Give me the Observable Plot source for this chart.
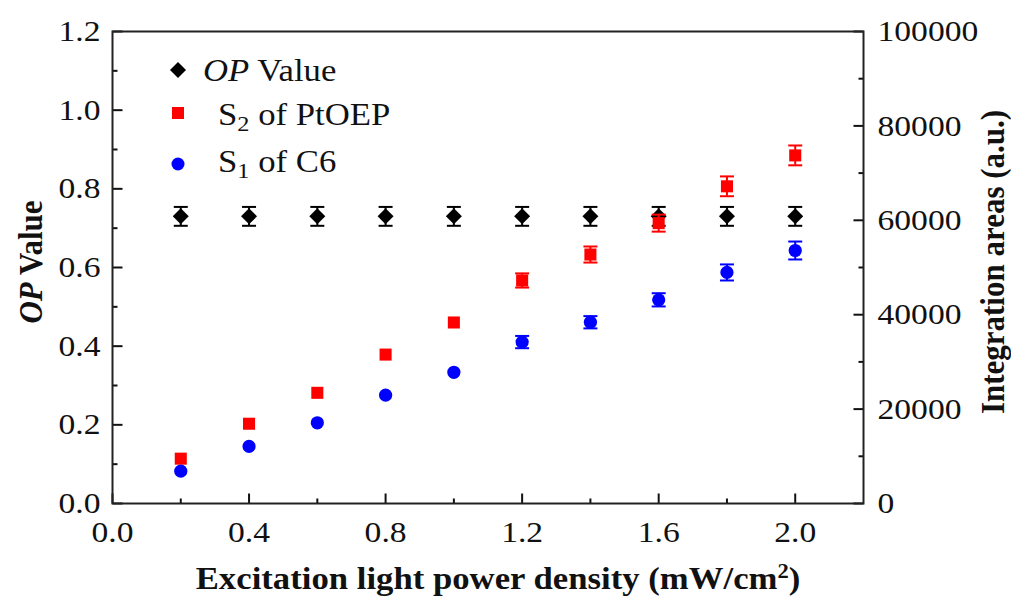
<!DOCTYPE html>
<html>
<head>
<meta charset="utf-8">
<script src="https://cdn.jsdelivr.net/npm/d3@7"></script>
<script src="https://cdn.jsdelivr.net/npm/@observablehq/plot@0.6"></script>
<style>
  html, body { margin: 0; padding: 0; background: #fff; }
  #chart { width: 1011px; height: 601px; }
</style>
</head>
<body>
<div id="chart"></div>
<script>
// ---- data ----
const power = [0.2, 0.4, 0.6, 0.8, 1.0, 1.2, 1.4, 1.6, 1.8, 2.0];           // mW/cm^2
const opValue = [0.73, 0.73, 0.73, 0.73, 0.73, 0.73, 0.73, 0.73, 0.73, 0.73]; // left axis
const opError = [0.024, 0.024, 0.024, 0.024, 0.024, 0.024, 0.024, 0.024, 0.024, 0.024];
const s2PtOEP = [9500, 16900, 23450, 31550, 38350, 47250, 52750, 59400, 67200, 73750]; // right axis
const s2Error = [0, 0, 0, 0, 0, 1500, 1700, 1800, 2100, 2100];
const s1C6 = [6850, 12100, 17100, 22950, 27800, 34200, 38400, 43150, 48950, 53600];     // right axis
const s1Error = [0, 0, 0, 0, 0, 1300, 1300, 1400, 1700, 1900];

const xMajorTicks = [0, 0.4, 0.8, 1.2, 1.6, 2.0];
const xMinorTicks = [0.2, 0.6, 1.0, 1.4, 1.8];
const leftMajorTicks = [0, 0.2, 0.4, 0.6, 0.8, 1.0, 1.2];
const leftMinorTicks = [0.1, 0.3, 0.5, 0.7, 0.9, 1.1];
const rightMajorTicks = [0, 20000, 40000, 60000, 80000, 100000];
const rightMinorTicks = [10000, 30000, 50000, 70000, 90000];

const xDomain = [0, 2.2];
const leftMax = 1.2;
const rightMax = 100000;

const seriesLabels = {
  op: "OP Value",
  s2: "of PtOEP",
  s1: "of C6"
};
const xTitle = "Excitation light power density (mW/cm";
const rightTitle = "Integration areas (a.u.)";

// ---- helpers ----
const toLeft = v => v * leftMax / rightMax;
const fromLeft = v => v * rightMax / leftMax;

const rows = power.map((x, i) => ({
  x,
  op: opValue[i], opErr: opError[i],
  s2: toLeft(s2PtOEP[i]), s2Err: toLeft(s2Error[i]),
  s1: toLeft(s1C6[i]), s1Err: toLeft(s1Error[i])
}));

// custom pixel-length symbols (length = r)
const lineSym = (dx, dy) => ({
  draw(ctx, size) {
    const r = Math.sqrt(size / Math.PI);
    ctx.moveTo(0, 0);
    ctx.lineTo(dx * r, dy * r);
  }
});
const capSym = {
  draw(ctx, size) {
    const r = Math.sqrt(size / Math.PI);
    ctx.moveTo(-r, 0);
    ctx.lineTo(r, 0);
  }
};

const INK = "#111";
const RED = "#ff0000";
const BLUE = "#0000ff";
const FONT = "'Liberation Serif', 'Times New Roman', serif";
const TICK_FS = 30;
const STRETCH = 1.12;

function errorMarks(key, errKey, color) {
  const withErr = rows.filter(d => d[errKey] > 0);
  return [
    Plot.ruleX(withErr, {x: "x", y1: d => d[key] - d[errKey], y2: d => d[key] + d[errKey], stroke: color, strokeWidth: 2}),
    Plot.dot(withErr, {x: "x", y: d => d[key] + d[errKey], symbol: capSym, r: 7, fill: "none", stroke: color, strokeWidth: 2}),
    Plot.dot(withErr, {x: "x", y: d => d[key] - d[errKey], symbol: capSym, r: 7, fill: "none", stroke: color, strokeWidth: 2})
  ];
}

const chart = Plot.plot({
  width: 1011,
  height: 601,
  marginLeft: 112,
  marginRight: 148,
  marginTop: 31,
  marginBottom: 98,
  style: {fontFamily: FONT, background: "#fff", color: INK, overflow: "visible"},
  x: {domain: xDomain},
  y: {domain: [0, leftMax]},
  marks: [
    // tick marks pointing inward
    Plot.dot(xMajorTicks, {x: d => d, frameAnchor: "bottom", symbol: lineSym(0, -1), r: 10, fill: "none", stroke: INK, strokeWidth: 2}),
    Plot.dot(xMinorTicks, {x: d => d, frameAnchor: "bottom", symbol: lineSym(0, -1), r: 5, fill: "none", stroke: INK, strokeWidth: 2}),
    Plot.dot(leftMajorTicks, {y: d => d, frameAnchor: "left", symbol: lineSym(1, 0), r: 10, fill: "none", stroke: INK, strokeWidth: 2}),
    Plot.dot(leftMinorTicks, {y: d => d, frameAnchor: "left", symbol: lineSym(1, 0), r: 5, fill: "none", stroke: INK, strokeWidth: 2}),
    Plot.dot(rightMajorTicks.map(toLeft), {y: d => d, frameAnchor: "right", symbol: lineSym(-1, 0), r: 10, fill: "none", stroke: INK, strokeWidth: 2}),
    Plot.dot(rightMinorTicks.map(toLeft), {y: d => d, frameAnchor: "right", symbol: lineSym(-1, 0), r: 5, fill: "none", stroke: INK, strokeWidth: 2}),
    // axes (labels)
    Plot.axisX(xMajorTicks, {anchor: "bottom", tickSize: 0, tickPadding: 17, tickFormat: d3.format(".1f"), fontSize: TICK_FS, label: null}),
    Plot.axisY(leftMajorTicks, {anchor: "left", tickSize: 0, tickPadding: 12, tickFormat: d3.format(".1f"), fontSize: TICK_FS, label: null}),
    Plot.axisY(rightMajorTicks.map(toLeft), {anchor: "right", tickSize: 0, tickPadding: 14, tickFormat: d => String(Math.round(fromLeft(d))), fontSize: TICK_FS, label: null}),
    // OP value
    ...errorMarks("op", "opErr", "#000"),
    Plot.dot(rows, {x: "x", y: "op", symbol: "diamond2", r: 7.2, fill: "#000"}),
    // S2 of PtOEP
    ...errorMarks("s2", "s2Err", RED),
    Plot.dot(rows, {x: "x", y: "s2", symbol: "square", r: 6.8, fill: RED}),
    // S1 of C6
    ...errorMarks("s1", "s1Err", BLUE),
    Plot.dot(rows, {x: "x", y: "s1", symbol: "circle", r: 6.6, fill: BLUE}),
    Plot.frame({stroke: "#222", strokeWidth: 2})
  ]
});

document.getElementById("chart").appendChild(chart);

// horizontal stretch of the axis tick labels (the reference type is slightly wide)
const svg = d3.select(chart);
svg.selectAll("g[aria-label$='tick label'] text").each(function () {
  const t = d3.select(this);
  const x = t.attr("x");
  let tr = t.attr("transform") || "";
  if (x !== null && !isNaN(+x) && +x !== 0) {
    tr = `translate(${+x},0) ` + tr;
    t.attr("x", null);
  }
  t.attr("transform", `${tr} scale(${STRETCH},1)`);
});

// ---- legend and axis titles ----
const deco = svg.append("g").attr("font-family", FONT).attr("fill", INK);

const legend = [
  {sym: d3.symbolDiamond2, size: 163, color: "#000", sy: 70, tx: 203, ty: 81, key: "op"},
  {sym: d3.symbolSquare, size: 144, color: RED, sy: 113, tx: 218, ty: 125, key: "s2", sub: "2"},
  {sym: d3.symbolCircle, size: 133, color: BLUE, sy: 164, tx: 218, ty: 172, key: "s1", sub: "1"}
];
legend.forEach(e => {
  deco.append("path")
    .attr("d", d3.symbol(e.sym, e.size)())
    .attr("transform", `translate(178,${e.sy})`)
    .attr("fill", e.color);
  const t = deco.append("text")
    .attr("transform", `translate(${e.tx},${e.ty}) scale(${STRETCH},1)`)
    .attr("text-anchor", "start")
    .attr("font-size", 31);
  if (e.key === "op") {
    const [a, b] = seriesLabels.op.split(" ");
    t.append("tspan").attr("font-style", "italic").text(a);
    t.append("tspan").text(" " + b);
  } else {
    t.append("tspan").text("S");
    t.append("tspan").attr("font-size", "0.7em").attr("dy", "0.27em").text(e.sub);
    t.append("tspan").attr("dy", "-0.19em").text(" " + seriesLabels[e.key]);
  }
});

// x title
const xt = deco.append("text")
  .attr("transform", `translate(498,589) scale(${STRETCH},1)`)
  .attr("text-anchor", "middle")
  .attr("font-size", 31)
  .attr("font-weight", "bold");
xt.append("tspan").text(xTitle);
xt.append("tspan").attr("font-size", "0.65em").attr("dy", "-0.55em").text("2");
xt.append("tspan").attr("dy", "0.36em").text(")");

// left title
const lt = deco.append("text")
  .attr("transform", `translate(30,262) rotate(-90) scale(1,${STRETCH})`)
  .attr("text-anchor", "middle")
  .attr("dominant-baseline", "central")
  .attr("font-size", 31)
  .attr("font-weight", "bold");
lt.append("tspan").attr("font-style", "italic").text("OP");
lt.append("tspan").text(" Value");

// right title
deco.append("text")
  .attr("transform", `translate(992,262) rotate(-90) scale(1,${STRETCH})`)
  .attr("text-anchor", "middle")
  .attr("dominant-baseline", "central")
  .attr("font-size", 31)
  .attr("font-weight", "bold")
  .text(rightTitle);
</script>
</body>
</html>
